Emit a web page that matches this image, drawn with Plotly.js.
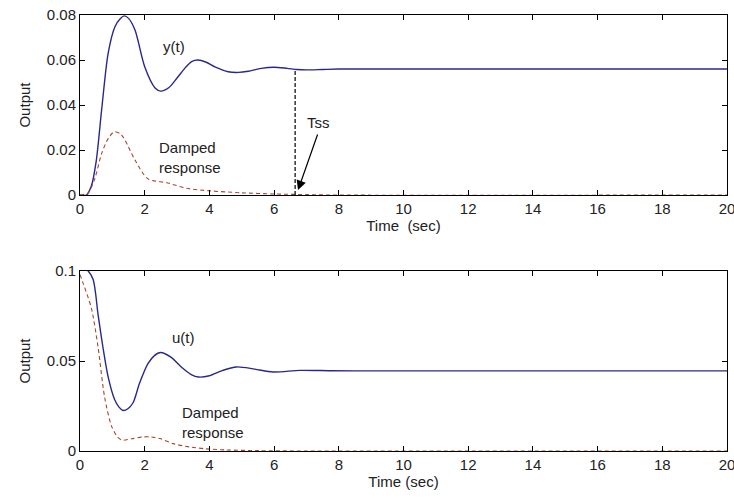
<!DOCTYPE html>
<html>
<head>
<meta charset="utf-8">
<script src="https://cdn.plot.ly/plotly-3.0.1.min.js"></script>
<style>html,body{margin:0;padding:0;background:#fff;}#chart{width:734px;height:498px;}</style>
</head>
<body>
<div id="chart"></div>
<script>
// ---- Top panel data ----
const tY = [0, 0.2, 0.35, 0.5, 0.67, 0.87, 1.08, 1.25, 1.37, 1.5, 1.7, 2.0, 2.32, 2.5, 2.75, 3.0, 3.25, 3.45, 3.65, 3.9, 4.17, 4.58, 4.9, 5.2, 5.6, 6.0, 6.4, 6.7, 7.0, 7.5, 8, 20];
const yOut = [0, 0, 0.004, 0.015, 0.038, 0.063, 0.0748, 0.0785, 0.0796, 0.0785, 0.0733, 0.057, 0.0476, 0.0462, 0.0478, 0.052, 0.0565, 0.0593, 0.0600, 0.0590, 0.057, 0.0548, 0.0545, 0.0550, 0.0563, 0.0568, 0.0563, 0.0558, 0.0556, 0.0558, 0.056, 0.056];
const tYd = [0, 0.25, 0.45, 0.67, 0.875, 1.06, 1.25, 1.39, 1.7, 2.1, 2.68, 3.3, 4.0, 5.0, 6.0, 7.0, 8, 20];
const yDamped = [0, 0.001, 0.007, 0.0185, 0.0252, 0.0281, 0.0272, 0.0244, 0.0156, 0.0072, 0.0055, 0.003, 0.0019, 0.001, 0.0005, 0.0002, 0, 0];

// ---- Bottom panel data ----
const tU = [0, 0.2, 0.4, 0.56, 0.71, 0.87, 1.07, 1.2, 1.33, 1.48, 1.64, 1.84, 2.1, 2.3, 2.49, 2.82, 3.13, 3.44, 3.66, 4.0, 4.4, 4.84, 5.4, 5.97, 6.8, 7.73, 8.5, 20];
const uOut = [0.103, 0.101, 0.0955, 0.0756, 0.0575, 0.0412, 0.0286, 0.0245, 0.0225, 0.0235, 0.0268, 0.0376, 0.0485, 0.053, 0.0547, 0.052, 0.0467, 0.0425, 0.0411, 0.0418, 0.0447, 0.0467, 0.0455, 0.0439, 0.0448, 0.0446, 0.0445, 0.0445];
const tUd = [0, 0.1, 0.35, 0.56, 0.76, 0.97, 1.15, 1.3, 1.6, 1.96, 2.2, 2.47, 2.88, 3.4, 3.9, 4.5, 5.5, 7, 20];
const uDamped = [0.098, 0.093, 0.0795, 0.0575, 0.030, 0.0141, 0.008, 0.006, 0.0068, 0.0078, 0.0078, 0.0069, 0.0041, 0.0022, 0.0012, 0.0006, 0.0002, 0, 0];

// ---- Tss marker ----
const tssTime = [6.65, 6.65];
const tssLevel = [0, 0.0558];
const tssArrowTail = [7.36, 0.0276];
const tssArrowHead = [6.74, 0.0022];

// ---- Axis ticks ----
const xTicks = [0, 2, 4, 6, 8, 10, 12, 14, 16, 18, 20];
const yTopTicks = [0, 0.02, 0.04, 0.06, 0.08];
const yTopLabels = ['0', '0.02', '0.04', '0.06', '0.08'];
const yBotTicks = [0, 0.05, 0.1];
const yBotLabels = ['0', '0.05', '0.1'];

const blue = 'rgb(40,40,140)';
const red = 'rgb(170,70,45)';
const font = {family: 'Liberation Sans, Arial, sans-serif', size: 15, color: '#222'};

const traces = [
  {x: tY, y: yOut, xaxis: 'x', yaxis: 'y', mode: 'lines', line: {color: blue, width: 1.4, shape: 'spline', smoothing: 0.8}, hoverinfo: 'skip'},
  {x: tYd, y: yDamped, xaxis: 'x', yaxis: 'y', mode: 'lines', line: {color: red, width: 1.1, dash: '4px,3px', shape: 'spline', smoothing: 0.8}, hoverinfo: 'skip'},
  {x: tssTime, y: tssLevel, xaxis: 'x', yaxis: 'y', mode: 'lines', line: {color: '#000', width: 1.2, dash: '4px,2px'}, hoverinfo: 'skip'},
  {x: tU, y: uOut, xaxis: 'x2', yaxis: 'y2', mode: 'lines', line: {color: blue, width: 1.4, shape: 'spline', smoothing: 0.8}, hoverinfo: 'skip'},
  {x: tUd, y: uDamped, xaxis: 'x2', yaxis: 'y2', mode: 'lines', line: {color: red, width: 1.1, dash: '4px,3px', shape: 'spline', smoothing: 0.8}, hoverinfo: 'skip'}
];

function xAxis(anchor, titleText, standoff) {
  return {
    anchor: anchor, domain: [0, 1], range: [0, 20], tickvals: xTicks, ticktext: xTicks.map(String),
    ticks: 'inside', ticklen: 5, tickcolor: '#000', mirror: 'allticks', showline: true, linecolor: '#000', linewidth: 1,
    showgrid: false, zeroline: false, tickfont: font, ticklabeloverflow: 'allow',
    title: {text: titleText, font: font, standoff: standoff}
  };
}
function yAxis(anchor, domain, range, vals, labels) {
  return {
    anchor: anchor, domain: domain, range: range, tickvals: vals, ticktext: labels,
    ticks: 'inside', ticklen: 5, tickcolor: '#000', mirror: 'allticks', showline: true, linecolor: '#000', linewidth: 1,
    showgrid: false, zeroline: false, tickfont: font,
    title: {text: 'Output', font: font, standoff: 12}
  };
}

const layout = {
  width: 734, height: 498,
  margin: {l: 80, r: 7, t: 15, b: 47},
  paper_bgcolor: '#fff', plot_bgcolor: '#fff',
  showlegend: false,
  font: font,
  xaxis: xAxis('y', 'Time  (sec)', 4),
  yaxis: yAxis('x', [0.587, 1], [0, 0.08], yTopTicks, yTopLabels),
  xaxis2: xAxis('y2', 'Time (sec)', 4),
  yaxis2: yAxis('x2', [0, 0.4128], [0, 0.1], yBotTicks, yBotLabels),
  annotations: [
    {xref: 'x', yref: 'y', x: 2.9, y: 0.0658, text: 'y(t)', showarrow: false, font: font},
    {xref: 'x', yref: 'y', x: 2.38, y: 0.0169, text: 'Damped<br>response', showarrow: false, xanchor: 'left', align: 'left', font: font},
    {xref: 'x', yref: 'y', x: 7.36, y: 0.0324, text: 'Tss', showarrow: false, font: font},
    {xref: 'x', yref: 'y', axref: 'x', ayref: 'y', x: tssArrowHead[0], y: tssArrowHead[1], ax: tssArrowTail[0], ay: tssArrowTail[1], text: '', showarrow: true, arrowhead: 2, arrowsize: 1.6, arrowwidth: 1.2, arrowcolor: '#000'},
    {xref: 'x2', yref: 'y2', x: 3.2, y: 0.0633, text: 'u(t)', showarrow: false, font: font},
    {xref: 'x2', yref: 'y2', x: 3.09, y: 0.016, text: 'Damped<br>response', showarrow: false, xanchor: 'left', align: 'left', font: font}
  ]
};

Plotly.newPlot('chart', traces, layout, {staticPlot: true, displayModeBar: false});
</script>
</body>
</html>
